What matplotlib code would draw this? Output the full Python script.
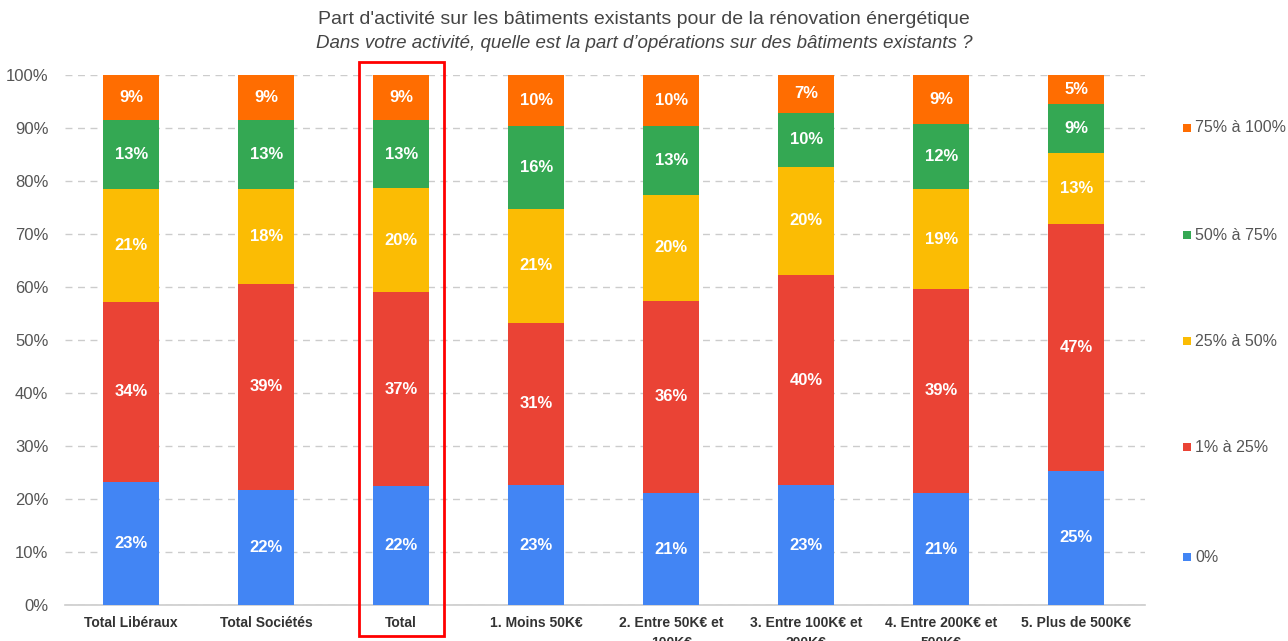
import matplotlib.pyplot as plt
import numpy as np
from matplotlib.patches import Rectangle

plt.rcParams["font.family"] = ["Liberation Sans", "DejaVu Sans"]

categories = [
    "Total Libéraux", "Total Sociétés", "Total", "1. Moins 50K€",
    "2. Entre 50K€ et\n100K€", "3. Entre 100K€ et\n200K€",
    "4. Entre 200K€ et\n500K€", "5. Plus de 500K€",
]
series_names = ["0%", "1% à 25%", "25% à 50%", "50% à 75%", "75% à 100%"]
colors = ["#4285f4", "#ea4335", "#fbbc04", "#34a853", "#ff6d01"]

v_0 = [23.2, 21.7, 22.4, 22.6, 21.1, 22.6, 21.1, 25.3]
v_1_25 = [34.0, 38.9, 36.6, 30.7, 36.3, 39.7, 38.6, 46.6]
v_25_50 = [21.3, 17.9, 19.6, 21.4, 20.0, 20.4, 18.7, 13.4]
v_50_75 = [13.0, 13.0, 12.9, 15.7, 13.0, 10.2, 12.4, 9.3]
v_75_100 = [8.6, 8.6, 8.6, 9.6, 9.6, 7.1, 9.2, 5.4]
series = [v_0, v_1_25, v_25_50, v_50_75, v_75_100]

fig = plt.figure(figsize=(12.88, 6.41), dpi=100)
ax = fig.add_axes([65 / 1288, 1 - 605 / 641, 1080 / 1288, 530 / 641])

x = np.arange(len(categories))
bottom = np.zeros(len(categories))
for vals, col in zip(series, colors):
    vals = np.array(vals)
    ax.bar(x, vals, 0.41, bottom=bottom, color=col, zorder=3)
    for xi, b, v in zip(x, bottom, vals):
        ax.text(xi, b + v / 2, f"{v:.0f}%", ha="center", va="center",
                color="white", fontsize=12, fontweight="bold", zorder=4)
    bottom += vals

ax.set_xlim(-0.49, len(categories) - 0.49)
ax.set_ylim(0, 100)
ax.set_yticks(np.arange(0, 101, 10))
ax.set_yticklabels([f"{t}%" for t in range(0, 101, 10)])
ax.tick_params(axis="y", length=0, labelsize=12, labelcolor="#555555", pad=12)
ax.tick_params(axis="x", length=0, pad=8)
ax.set_xticks(x)
ax.set_xticklabels(categories, fontsize=10, fontweight="bold", color="#333333",
                   linespacing=1.5, va="top")
ax.yaxis.grid(True, linestyle=(0, (5, 4)), color="#cccccc", linewidth=1, zorder=0)
for s in ["top", "right", "left"]:
    ax.spines[s].set_visible(False)
ax.spines["bottom"].set_color("#cccccc")
ax.spines["bottom"].set_linewidth(1.2)

# red highlight around the "Total" bar
i_total = categories.index("Total")
ax.add_patch(Rectangle((i_total - 0.31, -5.8), 0.63, 108.3, fill=False,
                       edgecolor="#ff0000", linewidth=2, clip_on=False, zorder=5))

fig.text(0.5, 1 - 20 / 641, "Part d'activité sur les bâtiments existants pour de la rénovation énergétique",
         ha="center", va="center", fontsize=14, color="#444444")
fig.text(0.5, 1 - 44 / 641, "Dans votre activité, quelle est la part d’opérations sur des bâtiments existants ?",
         ha="center", va="center", fontsize=13.5, color="#444444", style="italic")

legend_y = [557, 447, 341, 235, 128]
for name, col, yy in zip(series_names, colors, legend_y):
    fig.patches.append(Rectangle((1183 / 1288, 1 - (yy + 4) / 641), 8 / 1288, 8 / 641,
                                 transform=fig.transFigure, facecolor=col, edgecolor="none"))
    fig.text(1195 / 1288, 1 - yy / 641, name, ha="left", va="center",
             fontsize=11.5, color="#555555")

fig.savefig("out.png", dpi=100)
